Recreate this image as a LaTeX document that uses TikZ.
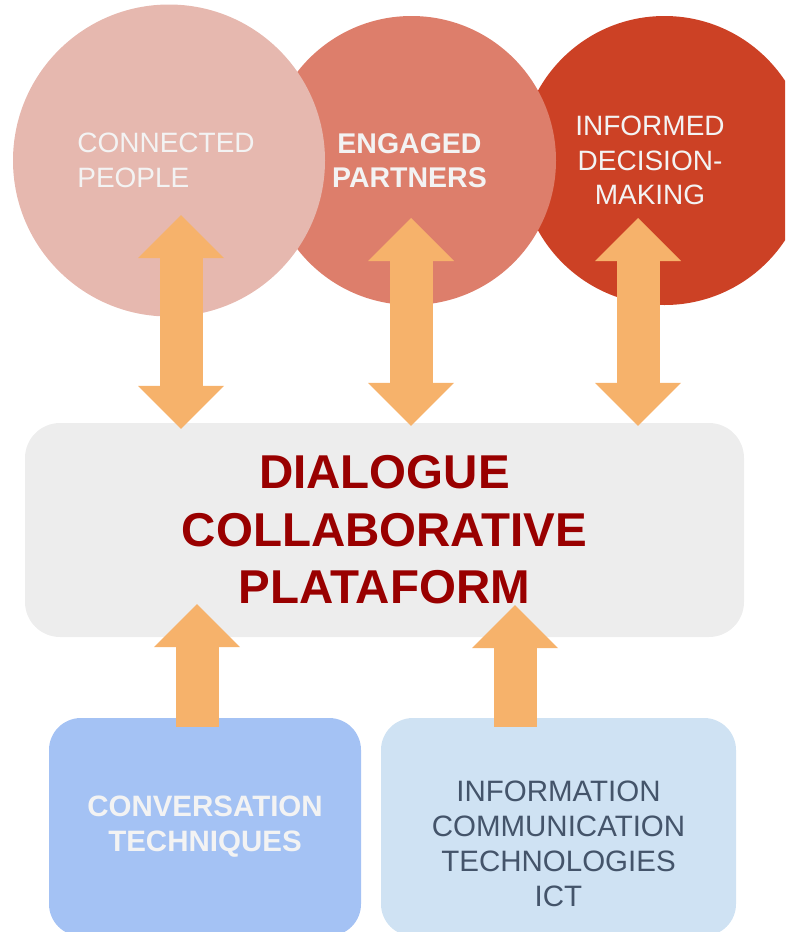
\documentclass[tikz,border=0pt]{standalone}
\usepackage{fontspec}
\setmainfont{Liberation Sans}
\usetikzlibrary{arrows.meta}

\definecolor{peoplec}{HTML}{E6B8AF}
\definecolor{partnersc}{HTML}{DD7E6B}
\definecolor{decisionc}{HTML}{CC4125}
\definecolor{platformc}{HTML}{EDEDED}
\definecolor{titlec}{HTML}{990000}
\definecolor{arrowc}{HTML}{F6B26B}
\definecolor{conversc}{HTML}{A4C2F4}
\definecolor{ictc}{HTML}{CFE2F3}
\definecolor{icttextc}{HTML}{44546A}
\definecolor{lighttextc}{HTML}{F3F3F3}

\begin{document}
\begin{tikzpicture}[x=1pt,y=-1pt]
\tikzstyle{every node}=[inner sep=0pt]
\tikzstyle{goal}=[circle,draw=none]
\tikzstyle{goaltext}=[align=center,text=lighttextc,font=\fontsize{28}{34.5}\selectfont]
\tikzstyle{platbox}=[rectangle,rounded corners=35pt,fill=platformc,minimum width=719pt,
minimum height=214pt,align=center,text=titlec,font=\fontsize{47.5}{57.5}\selectfont\bfseries]
\tikzstyle{srcbox}=[rectangle,rounded corners=32pt,minimum height=218pt,align=center,
font=\fontsize{29.5}{35}\selectfont]
\tikzstyle{fat}=[line width=43pt,draw=arrowc]
\tikzset{>={Triangle[length=43pt,width=86pt,line width=0pt]}}

\clip (0,0) rectangle (785,932);

%% Draw the three goals, back to front
\node [goal,fill=decisionc,minimum size=289pt] (decision) at (664.5,160.5) {};
\node [goal,fill=partnersc,minimum size=289pt] (partners) at (411.5,160.5) {};
\node [goal,fill=peoplec,minimum size=312pt] (people) at (169,160.5) {};

\node [goaltext,align=left] at ([xshift=-3pt]people.center) (peopletxt) {CONNECTED\\PEOPLE};
\node [goaltext,font=\fontsize{28.5}{34.5}\selectfont\bfseries] at ([xshift=-2pt]partners.center)
  (partnerstxt) {ENGAGED\\PARTNERS};
\node [goaltext] at ([xshift=-14.5pt]decision.center) (decisiontxt) {INFORMED\\DECISION-\\MAKING};

%% Draw platform box
\node [platbox] (dialogue) at (384.5,530) {DIALOGUE\\COLLABORATIVE\\PLATAFORM};

%% Draw the two sources below
\node [srcbox,fill=conversc,minimum width=312pt,text=lighttextc,
  font=\fontsize{29.5}{35}\selectfont\bfseries] (convers) at (205,827) {CONVERSATION\\TECHNIQUES};
\node [srcbox,fill=ictc,minimum width=355pt] (ict) at (558.5,827) {};
\node [srcbox,minimum height=0pt,text=icttextc] at ([yshift=-17pt]ict.center) (icttxt)
  {INFORMATION\\COMMUNICATION\\TECHNOLOGIES\\ICT};

%% Draw arrows between goals and platform
\coordinate (tip1) at (181,215);
\coordinate (tip2) at (411,218);
\coordinate (tip3) at (638,218);
\draw [fat,<->,shorten >=-6pt] (tip1) -- (tip1 |- dialogue.north);
\draw [fat,<->,shorten >=-3pt] (tip2) -- (tip2 |- dialogue.north);
\draw [fat,<->,shorten >=-3pt] (tip3) -- (tip3 |- dialogue.north);

%% Draw arrow coming in from the right
\coordinate (tail4) at (800,532);
\draw [fat,->,shorten >=73pt] (tail4) -- (dialogue.east |- tail4);

%% Draw arrows from sources up to platform
\coordinate (tip5) at (197,604);
\coordinate (tip6) at (515,605);
\draw [fat,->,shorten <=-9pt] (tip5 |- convers.north) -- (tip5);
\draw [fat,->,shorten <=-9pt] (tip6 |- ict.north) -- (tip6);
\end{tikzpicture}
\end{document}
